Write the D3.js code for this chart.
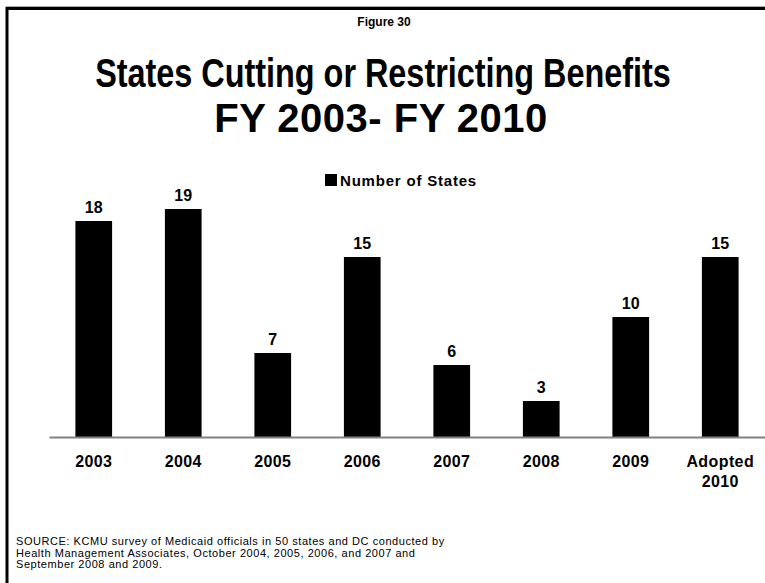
<!DOCTYPE html>
<html lang="en">
<head>
  <meta charset="UTF-8">
  <title>States Cutting or Restricting Benefits</title>
  <style>
    body { margin: 0; background: #fff; }
    svg { display: block; font-family: "Liberation Sans", Arial, sans-serif; }
    .bar { fill: #000; }
    .val { font-size: 16px; font-weight: bold; text-anchor: middle; }
    .xaxis path { stroke: #808080; stroke-width: 2px; }
    .xaxis text { font-size: 16px; font-weight: bold; fill: #000; letter-spacing: 0.4px; font-family: "Liberation Sans", Arial, sans-serif; }
    .src { font-size: 11px; letter-spacing: 0.55px; }
  </style>
  <script src="https://cdn.jsdelivr.net/npm/d3@7"></script>
</head>
<body>
<script>

var categories = ["2003", "2004", "2005", "2006", "2007", "2008", "2009", "Adopted 2010"];
var tickLabels = [["2003"], ["2004"], ["2005"], ["2006"], ["2007"], ["2008"], ["2009"], ["Adopted", "2010"]];
var values = [18, 19, 7, 15, 6, 3, 10, 15];
var seriesName = "Number of States";
var sourceLines = [
  "SOURCE: KCMU survey of Medicaid officials in 50 states and DC conducted by",
  "Health Management Associates, October 2004, 2005, 2006, and 2007 and",
  "September 2008 and 2009."
];

var width = 765,
    height = 583;

var svg = d3.select("body").append("svg")
    .attr("width", width)
    .attr("height", height);

svg.append("rect").attr("width", width).attr("height", height).attr("fill", "#fff");

// frame: top and left edges only
svg.append("line").attr("x1", 6).attr("x2", width).attr("y1", 6.5).attr("y2", 6.5)
    .attr("stroke", "#aaa").attr("stroke-width", 1);
svg.append("line").attr("x1", 6).attr("x2", width).attr("y1", 8.5).attr("y2", 8.5)
    .attr("stroke", "#000").attr("stroke-width", 3);
svg.append("line").attr("x1", 7).attr("x2", 7).attr("y1", 7).attr("y2", height)
    .attr("stroke", "#000").attr("stroke-width", 3);

svg.append("text")
    .attr("x", 384).attr("y", 26)
    .attr("text-anchor", "middle")
    .style("font-size", "12px").style("font-weight", "bold")
    .text("Figure 30");

// the original title face is narrower than Arial bold: squeeze line 1 horizontally
var title = svg.append("g")
    .attr("text-anchor", "middle")
    .style("font-size", "40px").style("font-weight", "bold");
title.append("text")
    .attr("transform", "translate(383,87) scale(0.81,1)")
    .text("States Cutting or Restricting Benefits");
title.append("text").attr("x", 381).attr("y", 132)
    .style("letter-spacing", "0.5px")
    .text("FY 2003- FY 2010");

var x = d3.scaleBand()
    .domain(categories)
    .range([49, 765])
    .paddingInner(0.59)
    .paddingOuter(0.295);

var y = d3.scaleLinear()
    .domain([0, 20])
    .range([437, 197]);

svg.selectAll(".bar")
    .data(values)
  .enter().append("rect")
    .attr("class", "bar")
    .attr("x", function(d, i) { return x(categories[i]); })
    .attr("width", x.bandwidth())
    .attr("y", function(d) { return y(d); })
    .attr("height", function(d) { return y(0) - y(d); });

svg.selectAll(".val")
    .data(values)
  .enter().append("text")
    .attr("class", "val")
    .attr("x", function(d, i) { return x(categories[i]) + x.bandwidth() / 2; })
    .attr("y", function(d) { return y(d) - 8; })
    .text(function(d) { return d; });

var xAxis = svg.append("g")
    .attr("class", "xaxis")
    .attr("transform", "translate(0," + y(0) + ")")
    .call(d3.axisBottom(x).tickSize(0).tickSizeOuter(0));

xAxis.selectAll(".tick text").each(function(d, i) {
  var t = d3.select(this).text(null).attr("y", null).attr("dy", null);
  tickLabels[i].forEach(function(line, k) {
    t.append("tspan").attr("x", 0).attr("y", 30 + k * 20).text(line);
  });
});

// legend
var legend = svg.append("g").attr("transform", "translate(325,174)");
legend.append("rect").attr("width", 12).attr("height", 12).attr("fill", "#000");
legend.append("text").attr("x", 15).attr("y", 12)
    .style("font-size", "15px").style("font-weight", "bold").style("letter-spacing", "0.8px")
    .text(seriesName);

svg.append("text")
    .attr("class", "src")
    .selectAll("tspan")
    .data(sourceLines)
  .enter().append("tspan")
    .attr("x", 16)
    .attr("y", function(d, i) { return 545 + i * 11.5; })
    .text(function(d) { return d; });

</script>
</body>
</html>
